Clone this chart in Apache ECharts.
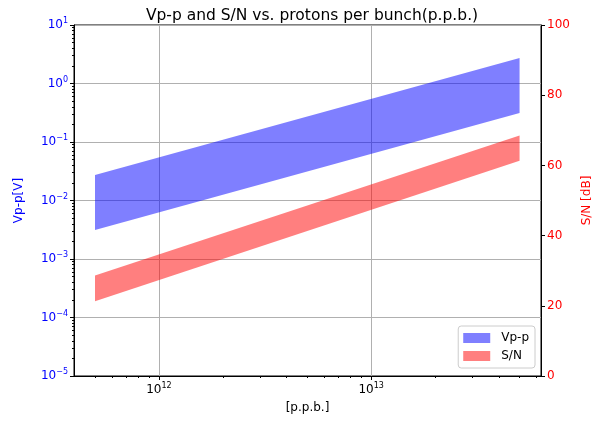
<!DOCTYPE html>
<html>
<head>
<meta charset="utf-8">
<script src="https://cdn.jsdelivr.net/npm/echarts@6/dist/echarts.min.js"></script>
<style>
  html, body { margin: 0; padding: 0; background: #fff; }
  #chart { width: 602px; height: 421px; }
</style>
</head>
<body>
<div id="chart"></div>
<script>
// protons per bunch at both ends of the range
const ppb = [5e11, 5e13]
// Vp-p band (V), left log axis
const vppLow = [3.13e-3, 0.313]
const vppHigh = [2.73e-2, 2.73]
// S/N band (dB), right linear axis
const snLow = [21.3, 61.3]
const snHigh = [28.6, 68.5]

const xMajor = [1e12, 1e13]
const xMinor = [5e11, 6e11, 7e11, 8e11, 9e11, 2e12, 3e12, 4e12, 5e12, 6e12, 7e12, 8e12, 9e12, 2e13, 3e13, 4e13, 5e13, 6e13]
const yMinor = []
for (let e = -5; e < 1; e++) for (let m = 2; m <= 9; m++) yMinor.push(m * Math.pow(10, e))

const FONT = 'DejaVu Sans'
const xMin = Math.pow(10, 11.6), xMax = Math.pow(10, 13.8)

function pow10Label(v) {
  const e = Math.round(Math.log10(v))
  return '{b|10}{s|' + String(e).replace('-', '\u2212') + '}'
}
const powRich = {
  b: { fontFamily: FONT, fontSize: 12 },
  s: { fontFamily: FONT, fontSize: 8, verticalAlign: 'top', padding: [0, 0, 8, 0] }
}

// draws the filled band between low and high arrays as one polygon
function bandItem(low, high) {
  return function (params, api) {
    if (params.dataIndex !== 0) return
    const pts = []
    for (let i = 0; i < ppb.length; i++) pts.push(api.coord([ppb[i], low[i]]))
    for (let i = ppb.length - 1; i >= 0; i--) pts.push(api.coord([ppb[i], high[i]]))
    return { type: 'polygon', shape: { points: pts }, style: { fill: api.visual('color') } }
  }
}

const chart = echarts.init(document.getElementById('chart'))
chart.setOption({
  animation: false,
  title: {
    text: 'Vp-p and S/N vs. protons per bunch(p.p.b.)',
    left: 307, top: 3, textAlign: 'center',
    textStyle: { fontFamily: FONT, fontSize: 15.5, fontWeight: 'normal', color: '#000' }
  },
  legend: {
    right: 67, bottom: 53, orient: 'vertical',
    itemWidth: 27, itemHeight: 10, itemGap: 6,
    padding: [6, 6, 6, 5],
    borderColor: '#ccc', borderWidth: 1, borderRadius: 3, backgroundColor: '#fff',
    textStyle: { fontFamily: FONT, fontSize: 12, color: '#000', padding: [0, 0, 0, 6] },
    data: [{ name: 'Vp-p', icon: 'rect' }, { name: 'S/N', icon: 'rect' }]
  },
  grid: { left: 74, right: 61, top: 25, bottom: 45, show: true, borderColor: '#000', borderWidth: 1 },
  xAxis: [{
    type: 'log', logBase: 10, min: xMin, max: xMax,
    name: '[p.p.b.]', nameLocation: 'middle', nameGap: 26,
    nameTextStyle: { fontFamily: FONT, fontSize: 12, color: '#000' },
    axisLine: { lineStyle: { color: '#000' } },
    axisTick: { length: 4, lineStyle: { color: '#000' }, customValues: xMajor },
    axisLabel: { customValues: xMajor, formatter: pow10Label, rich: powRich, color: '#000', margin: 6 },
    splitLine: { show: true, lineStyle: { color: '#b0b0b0', width: 1 } }
  }, {
    type: 'log', logBase: 10, min: xMin, max: xMax, position: 'bottom', offset: 0,
    axisLine: { show: false },
    axisTick: { length: 2, lineStyle: { color: '#000' }, customValues: xMinor },
    axisLabel: { show: false },
    splitLine: { show: false }
  }],
  yAxis: [{
    type: 'log', logBase: 10, min: 1e-5, max: 10, splitNumber: 6,
    name: 'Vp-p[V]', nameLocation: 'middle', nameGap: 49,
    nameTextStyle: { fontFamily: FONT, fontSize: 12, color: '#0000ff' },
    axisLine: { lineStyle: { color: '#000' } },
    axisTick: { length: 4, lineStyle: { color: '#000' } },
    axisLabel: { formatter: pow10Label, rich: powRich, color: '#0000ff', margin: 6 },
    splitLine: { show: true, lineStyle: { color: '#b0b0b0', width: 1 } }
  }, {
    type: 'log', logBase: 10, min: 1e-5, max: 10, position: 'left', offset: 0,
    axisLine: { show: false },
    axisTick: { length: 2, lineStyle: { color: '#000' }, customValues: yMinor },
    axisLabel: { show: false },
    splitLine: { show: false }
  }, {
    type: 'value', min: 0, max: 100, interval: 20, position: 'right',
    name: 'S/N [dB]', nameLocation: 'middle', nameGap: 40,
    nameTextStyle: { fontFamily: FONT, fontSize: 12, color: '#ff0000' },
    axisLine: { show: true, lineStyle: { color: '#000' } },
    axisTick: { show: true, length: 4, lineStyle: { color: '#000' } },
    axisLabel: { fontFamily: FONT, fontSize: 12, color: '#ff0000', margin: 6 },
    splitLine: { show: false }
  }],
  series: [{
    name: 'Vp-p', type: 'custom', xAxisIndex: 0, yAxisIndex: 0,
    itemStyle: { color: 'rgba(0,0,255,0.5)' },
    renderItem: bandItem(vppLow, vppHigh),
    data: ppb.map((x, i) => [x, vppLow[i], vppHigh[i]])
  }, {
    name: 'S/N', type: 'custom', xAxisIndex: 0, yAxisIndex: 2,
    itemStyle: { color: 'rgba(255,0,0,0.5)' },
    renderItem: bandItem(snLow, snHigh),
    data: ppb.map((x, i) => [x, snLow[i], snHigh[i]])
  }]
})
</script>
</body>
</html>
